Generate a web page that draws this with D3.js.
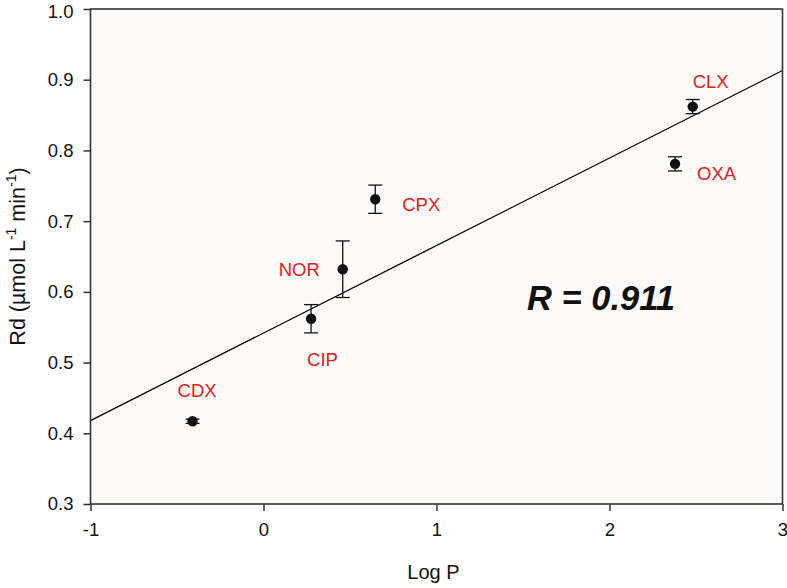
<!DOCTYPE html>
<html><head><meta charset="utf-8">
<script src="https://cdn.jsdelivr.net/npm/d3@7"></script>
<style>
html,body{margin:0;padding:0;background:#fff;}
svg{display:block;font-family:"Liberation Sans",Arial,sans-serif;}
</style></head>
<body>
<svg id="chart" width="787" height="588"></svg>
<script>
// ---- data ----
const drugs  = ["CDX", "CIP", "NOR", "CPX", "CLX", "OXA"];
const logP   = [-0.41, 0.275, 0.458, 0.646, 2.481, 2.379];
const rd     = [0.417, 0.562, 0.632, 0.731, 0.862, 0.781];
const rdErr  = [0.003, 0.020, 0.040, 0.020, 0.010, 0.010];
const fitX   = [-1, 3];
const fitY   = [0.418, 0.913];
const xTicks = [-1, 0, 1, 2, 3];
const yTicks = [0.3, 0.4, 0.5, 0.6, 0.7, 0.8, 0.9, 1.0];
const rText  = "R = 0.911";
// label placement (pixel offsets from point, left/baseline)
const labelOffsets = [[-15,-24],[-4,47],[-64,7],[27,12],[0,-19],[22,16]];

const svg = d3.select("#chart");
const L = 90.5, R = 782.5, T = 9, B = 504;
const x = d3.scaleLinear().domain([-1, 3]).range([L, R]);
const y = d3.scaleLinear().domain([0.3, 1.0]).range([B, T]);

// plot background
svg.append("rect").attr("x", L).attr("y", T).attr("width", R-L).attr("height", B-T)
  .attr("fill", "#fcfbf9");

// regression line
svg.append("line")
  .attr("x1", x(fitX[0])).attr("y1", y(fitY[0]))
  .attr("x2", x(fitX[1])).attr("y2", y(fitY[1]))
  .attr("stroke", "#000").attr("stroke-width", 1.3);

// axes
const axColor = "#333";
const gx = svg.append("g").attr("transform", `translate(0,${B})`)
  .call(d3.axisBottom(x).tickValues(xTicks).tickFormat(d3.format("d")).tickSize(7).tickPadding(12));
const gy = svg.append("g").attr("transform", `translate(${L},0)`)
  .call(d3.axisLeft(y).tickValues(yTicks).tickFormat(d3.format(".1f")).tickSize(7).tickPadding(10));
[gx, gy].forEach(g => {
  g.select(".domain").remove();
  g.selectAll(".tick line").attr("stroke", axColor).attr("stroke-width", 1.5);
  g.selectAll(".tick text").attr("fill", "#111").style("font-size", "18.5px")
    .style("font-family", '"Liberation Sans",Arial,sans-serif');
});
gx.selectAll(".tick text").text(d => d < 0 ? "-" + Math.abs(d) : d);
gy.selectAll(".tick text").filter(d => d === 1.0).attr("dy", "0.45em");

// frame
svg.append("rect").attr("x", L).attr("y", T).attr("width", R-L).attr("height", B-T)
  .attr("fill", "none").attr("stroke", axColor).attr("stroke-width", 1.6);

// error bars
const cap = 7;
const pts = drugs.map((d, i) => ({name: d, x: logP[i], y: rd[i], e: rdErr[i], off: labelOffsets[i]}));
const eb = svg.append("g").attr("stroke", "#111").attr("stroke-width", 1.3);
pts.forEach(p => {
  const cx = x(p.x), y1 = y(p.y + p.e), y2 = y(p.y - p.e);
  eb.append("line").attr("x1", cx).attr("x2", cx).attr("y1", y1).attr("y2", y2);
  eb.append("line").attr("x1", cx-cap).attr("x2", cx+cap).attr("y1", y1).attr("y2", y1);
  eb.append("line").attr("x1", cx-cap).attr("x2", cx+cap).attr("y1", y2).attr("y2", y2);
});

// points
svg.append("g").selectAll("circle").data(pts).join("circle")
  .attr("cx", d => x(d.x)).attr("cy", d => y(d.y)).attr("r", 5.2).attr("fill", "#111");

// labels
svg.append("g").selectAll("text").data(pts).join("text")
  .attr("x", d => x(d.x) + d.off[0]).attr("y", d => y(d.y) + d.off[1])
  .attr("fill", "#e0211c").style("font-size", "18.5px").text(d => d.name);

// R text
svg.append("text").attr("x", 527).attr("y", 310)
  .style("font-size", "34.5px").style("font-weight", "bold").style("font-style", "italic")
  .attr("fill", "#111").text(rText);

// axis titles
svg.append("text").attr("x", (L+R)/2 - 3).attr("y", 579).attr("text-anchor", "middle")
  .style("font-size", "20px").attr("fill", "#111").text("Log P");

const yt = svg.append("text").attr("transform", `translate(25,${(T+B)/2}) rotate(-90)`)
  .attr("text-anchor", "middle").style("font-size", "21.5px").attr("fill", "#111");
yt.append("tspan").text("Rd (µmol L");
yt.append("tspan").attr("dy", -9).style("font-size", "14px").text("-1");
yt.append("tspan").attr("dy", 9).text(" min");
yt.append("tspan").attr("dy", -9).style("font-size", "14px").text("-1");
yt.append("tspan").attr("dy", 9).text(")");
</script>
</body></html>
